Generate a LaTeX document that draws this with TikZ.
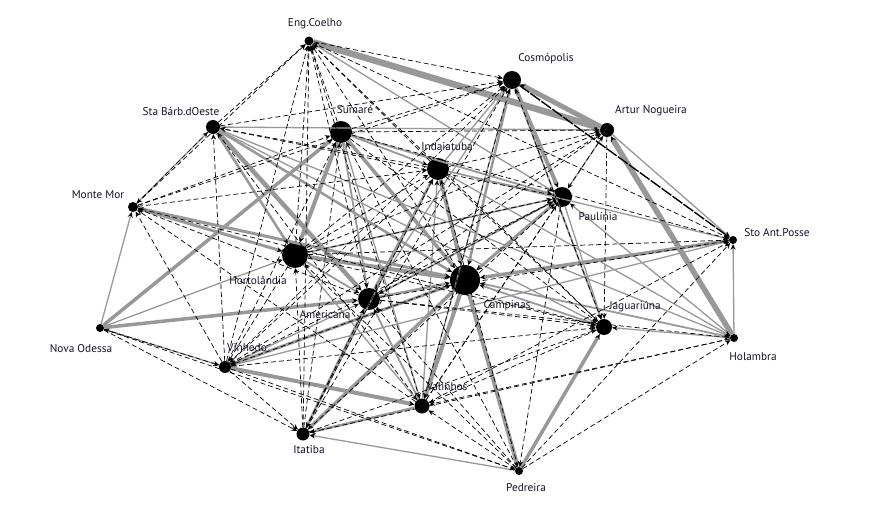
\documentclass[tikz,border=0pt]{standalone}
\usepackage{fontspec}
\setmainfont{PT Sans}
\usetikzlibrary{arrows.meta}
\definecolor{eg}{RGB}{152,152,152}
\definecolor{lb}{RGB}{20,20,40}
\begin{document}
\begin{tikzpicture}[x=1pt,y=-1pt,
  city/.style={circle,fill=black,inner sep=0pt,minimum size=#1},
  lbl/.style={font=\fontsize{11.3}{12}\selectfont,text=lb,inner sep=0pt},
  ahd/.style={-{Stealth[length=5.5pt,width=5pt,black]}},
  gs/.style={eg,line width=#1,ahd},
  ds/.style={black,line width=0.7pt,dash pattern=on 5pt off 3pt,ahd},
  dk/.style={black,line width=1.4pt,dash pattern=on 12pt off 1.5pt,ahd}]
\useasboundingbox (0,0) rectangle (876,532);
% nodes
\node[city=9pt]  (EC) at (309,41) {};
\node[city=18pt] (CO) at (512,80) {};
\node[city=14pt] (AN) at (607,130) {};
\node[city=14pt] (SB) at (213,127) {};
\node[city=22pt] (SU) at (341,132) {};
\node[city=22pt] (IN) at (438,169) {};
\node[city=20pt] (PA) at (562,197) {};
\node[city=10pt] (MM) at (133,207) {};
\node[city=8pt]  (SP) at (733,240) {};
\node[city=26pt] (HO) at (295,255) {};
\node[city=30pt] (CA) at (465,280) {};
\node[city=22pt] (AM) at (369,299) {};
\node[city=16pt] (JA) at (604,327) {};
\node[city=8pt]  (HB) at (734,338) {};
\node[city=8pt]  (NO) at (100,328) {};
\node[city=12pt] (VI) at (225,367) {};
\node[city=15pt] (VA) at (422,406) {};
\node[city=13pt] (IT) at (303,434) {};
\node[city=8pt]  (PE) at (519,471) {};
% gray weighted edges
\foreach \a/\b/\w in {EC/AN/6.5, AN/CO/5, HB/AN/5.5, CO/PA/4, IN/CA/4, HO/CA/4,
  SU/HO/4, SU/CA/3.5, SB/AM/4.5, NO/SU/3.5, NO/AM/3.5, VI/VA/4, VI/CA/3, CA/IT/3.5,
  CA/VA/4, CA/PE/4, PE/JA/3.5, PA/CA/3, SP/CA/3.5, MM/CA/3, MM/HO/3,
  VA/IT/2.5, SB/HO/2.5, SB/CA/2.5, AM/IN/2.5, CO/CA/2.5, AM/CA/2.5, AM/IT/2.5,
  SU/IN/1.8, SU/PA/1.8, CO/JA/1.8, HB/CA/1.8, HO/AM/1.8, HO/PA/1.8, AM/PA/1.8,
  VA/AM/1.8, SU/AM/1.8, JA/CA/1.8, PA/CA/1.4}
  \draw[gs=\w pt] (\a) -- (\b);
\foreach \a/\b in {NO/HO, NO/MM, NO/VI, PE/IT, SB/MM, SB/JA, SB/AN, IN/PA, IN/CO,
  VA/IN, CO/AM, AN/PA, AN/SP, PA/JA, HB/PA, HB/JA, HB/SP, HO/VA, SU/VA, VI/AM,
  EC/PA, SB/HB, IN/HB, IN/SP, CO/VA, SP/VI, IN/IT}
  \draw[gs=1.3pt] (\a) -- (\b);
% dashed edges
\foreach \a/\b in {SB/EC, MM/EC, SU/EC, HO/EC, AM/EC, VI/EC, IT/EC, VA/EC, CA/EC,
  IN/EC, EC/CO, SP/EC, JA/EC,
  SB/CO, IN/SB, PA/SB, VI/SB, VA/SB,
  MM/IN, MM/CO, MM/SU, VI/MM, VA/MM, AM/MM, JA/MM, MM/SB,
  NO/IT, NO/VI, PE/NO,
  SU/CO, SU/AN, SU/JA, VI/SU, IT/SU, PE/SU, SU/SP,
  IN/AN, IN/VI, IT/IN, IN/JA, HO/IN, PE/IN,
  HO/CO, VI/CO, IT/CO, VA/CO, JA/CO,
  AM/AN, VA/AN, HO/AN, VI/AN, AN/JA,
  VI/PA, IT/PA, VA/PA, HO/PA, PA/AM,
  AM/SP, VA/SP, HO/SP, PE/SP,
  HO/JA, PE/HO, IT/HO,
  AM/JA, AM/HB, IT/AM, PE/AM,
  JA/VA, VI/JA, IT/JA,
  HB/VA, HB/IT, PE/HB, VI/IT, PE/VA, VI/PE, CA/VI, HO/VI, PA/PE}
  \draw[ds] (\a) -- (\b);
\draw[dk] (CO) -- (SP);
% labels
\node[lbl] at (315,24) {Eng.Coelho};
\node[lbl] at (546,59) {Cosmópolis};
\node[lbl] at (651,111) {Artur Nogueira};
\node[lbl] at (181,112) {Sta Bárb.dOeste};
\node[lbl] at (355,110) {Sumaré};
\node[lbl] at (447,147) {Indaiatuba};
\node[lbl] at (598,217) {Paulínia};
\node[lbl] at (98,195) {Monte Mor};
\node[lbl] at (777,233) {Sto Ant.Posse};
\node[lbl] at (258,280) {Hortolândia};
\node[lbl] at (507,306) {Campinas};
\node[lbl] at (325,315) {Americana};
\node[lbl] at (635,307) {Jaguariúna};
\node[lbl] at (753,357) {Holambra};
\node[lbl] at (81,349) {Nova Odessa};
\node[lbl] at (247,348) {Vinhedo};
\node[lbl] at (447,387) {Valinhos};
\node[lbl] at (309,450) {Itatiba};
\node[lbl] at (526,488) {Pedreira};
\end{tikzpicture}
\end{document}
